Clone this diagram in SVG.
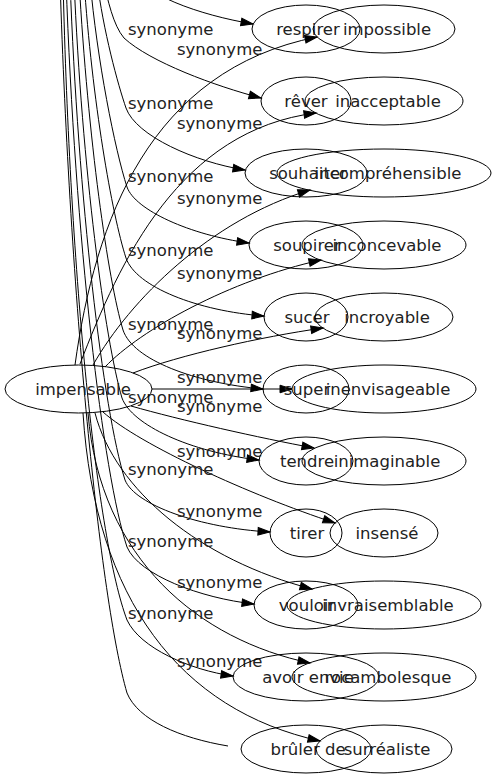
<svg xmlns="http://www.w3.org/2000/svg" width="496" height="779" viewBox="0 0 496 779">
<style>
.n ellipse{fill:none;stroke:#000;stroke-width:1}
text{font-family:"DejaVu Sans","Liberation Sans",sans-serif;font-size:16.5px;fill:#222}
.nt{text-anchor:middle}
#edges path{fill:none;stroke:#000;stroke-width:1}
#edges path.a{marker-end:url(#ah)}
</style>
<defs>
<marker id="ah" markerUnits="userSpaceOnUse" markerWidth="14" markerHeight="10" refX="12" refY="3.8" orient="auto" overflow="visible">
<path d="M0,0 L12,3.8 L0,7.6 Z" fill="#000" stroke="#000" stroke-width="1"/>
</marker>
</defs>
<rect width="496" height="779" fill="#fff"/>
<g id="edges">
<path class="a" d="M75,365 C95,220 150,70 317,37"/>
<path class="a" d="M80,364 C120,260 180,130 316,113"/>
<path class="a" d="M93,365 C130,300 210,220 310,190"/>
<path class="a" d="M105,367 C140,330 230,280 321,260"/>
<path class="a" d="M133,373 C180,355 260,337 323,328"/>
<path class="a" d="M152,389 L292,389"/>
<path class="a" d="M131,406 C180,420 260,438 314,448"/>
<path class="a" d="M103,412 C140,445 250,495 335,523"/>
<path class="a" d="M95,413 C115,490 200,560 312,589"/>
<path class="a" d="M88,413 C100,560 200,640 310,663"/>
<path class="a" d="M83,413 C95,600 180,710 320,741"/>
<path class="a" d="M126,-35 C140,-5 200,15 253,24"/>
<path class="a" d="M103,-20 C108,0 113,25 124,38 C150,62 215,86 261,98"/>
<path class="a" d="M97,-20 C103,30 118,85 126,108 C136,136 195,162 245,170"/>
<path class="a" d="M90,-20 C97,60 115,150 127,187 C135,210 190,235 249,243"/>
<path class="a" d="M84,-20 C92,100 112,215 126,258 C136,287 198,311 264,316"/>
<path class="a" d="M79,-20 C88,140 108,280 123,330 C133,360 195,383 263,389"/>
<path class="a" d="M74,-20 C82,170 105,340 122,398 C132,425 190,452 259,460"/>
<path class="a" d="M70,-20 C78,200 103,410 125,480 C135,505 200,528 270,532"/>
<path class="a" d="M66,-20 C75,240 103,475 127,547 C139,575 200,598 254,604"/>
<path class="a" d="M63,-20 C70,280 97,540 127,620 C140,648 190,670 233,676"/>
<path d="M60,-20 C70,300 100,600 127,693 C138,720 180,738 228,746"/>
<text x="128" y="35">synonyme</text>
<text x="128" y="109">synonyme</text>
<text x="128" y="182">synonyme</text>
<text x="128" y="256">synonyme</text>
<text x="128" y="330">synonyme</text>
<text x="128" y="403">synonyme</text>
<text x="128" y="475">synonyme</text>
<text x="128" y="547">synonyme</text>
<text x="128" y="619">synonyme</text>
<text x="177" y="55">synonyme</text>
<text x="177" y="129">synonyme</text>
<text x="177" y="204">synonyme</text>
<text x="177" y="279">synonyme</text>
<text x="177" y="339">synonyme</text>
<text x="177" y="383">synonyme</text>
<text x="177" y="412">synonyme</text>
<text x="177" y="457">synonyme</text>
<text x="177" y="517">synonyme</text>
<text x="177" y="588">synonyme</text>
<text x="177" y="667">synonyme</text>
</g>
<g id="node-impensable" class="n"><ellipse cx="78.5" cy="389" rx="73.5" ry="24"/><text class="nt" x="83" y="394.5">impensable</text></g>
<g id="node-respirer" class="n"><ellipse cx="306" cy="29" rx="54" ry="24"/><text class="nt" x="308" y="34.5">respirer</text></g>
<g id="node-rever" class="n"><ellipse cx="306" cy="101" rx="45" ry="24"/><text class="nt" x="306" y="106.5">rêver</text></g>
<g id="node-souhaiter" class="n"><ellipse cx="306" cy="173" rx="61" ry="24"/><text class="nt" x="308" y="178.5">souhaiter</text></g>
<g id="node-soupirer" class="n"><ellipse cx="306" cy="245" rx="57" ry="24"/><text class="nt" x="307" y="250.5">soupirer</text></g>
<g id="node-sucer" class="n"><ellipse cx="306" cy="317" rx="42" ry="24"/><text class="nt" x="307" y="322.5">sucer</text></g>
<g id="node-super" class="n"><ellipse cx="306" cy="389" rx="43" ry="24"/><text class="nt" x="307" y="394.5">super</text></g>
<g id="node-tendre" class="n"><ellipse cx="306" cy="461" rx="47" ry="24"/><text class="nt" x="307" y="466.5">tendre</text></g>
<g id="node-tirer" class="n"><ellipse cx="306" cy="533" rx="36" ry="24"/><text class="nt" x="307" y="538.5">tirer</text></g>
<g id="node-vouloir" class="n"><ellipse cx="306" cy="605" rx="52" ry="24"/><text class="nt" x="307" y="610.5">vouloir</text></g>
<g id="node-avoir-envie" class="n"><ellipse cx="306" cy="677" rx="73" ry="24"/><text class="nt" x="308" y="682.5">avoir envie</text></g>
<g id="node-bruler-de" class="n"><ellipse cx="306" cy="749" rx="65" ry="24"/><text class="nt" x="308" y="754.5">brûler de</text></g>
<g id="node-impossible" class="n"><ellipse cx="384" cy="29" rx="71" ry="24"/><text class="nt" x="387" y="34.5">impossible</text></g>
<g id="node-inacceptable" class="n"><ellipse cx="384" cy="101" rx="79" ry="24"/><text class="nt" x="388" y="106.5">inacceptable</text></g>
<g id="node-incomprehensible" class="n"><ellipse cx="384" cy="173" rx="107" ry="24"/><text class="nt" x="388" y="178.5">incompréhensible</text></g>
<g id="node-inconcevable" class="n"><ellipse cx="384" cy="245" rx="82" ry="24"/><text class="nt" x="387" y="250.5">inconcevable</text></g>
<g id="node-incroyable" class="n"><ellipse cx="384" cy="317" rx="69" ry="24"/><text class="nt" x="387" y="322.5">incroyable</text></g>
<g id="node-inenvisageable" class="n"><ellipse cx="384" cy="389" rx="92" ry="24"/><text class="nt" x="388" y="394.5">inenvisageable</text></g>
<g id="node-inimaginable" class="n"><ellipse cx="384" cy="461" rx="82" ry="24"/><text class="nt" x="387" y="466.5">inimaginable</text></g>
<g id="node-insense" class="n"><ellipse cx="384" cy="533" rx="54" ry="24"/><text class="nt" x="387" y="538.5">insensé</text></g>
<g id="node-invraisemblable" class="n"><ellipse cx="384" cy="605" rx="97" ry="24"/><text class="nt" x="388" y="610.5">invraisemblable</text></g>
<g id="node-rocambolesque" class="n"><ellipse cx="384" cy="677" rx="92" ry="24"/><text class="nt" x="388" y="682.5">rocambolesque</text></g>
<g id="node-surrealiste" class="n"><ellipse cx="384" cy="749" rx="68" ry="24"/><text class="nt" x="387" y="754.5">surréaliste</text></g>
</svg>
